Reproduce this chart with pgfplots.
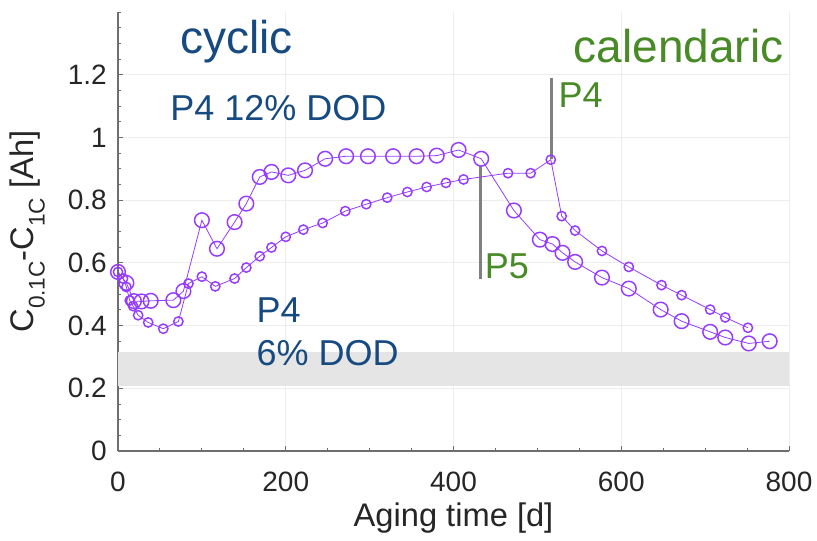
\documentclass[border=0pt]{standalone}
\usepackage{fontspec}
\setmainfont{Liberation Sans}
\usepackage{pgfplots}
\pgfplotsset{compat=1.18}
\definecolor{pur}{RGB}{150,60,255}
\definecolor{cblue}{RGB}{22,74,128}
\definecolor{cgreen}{RGB}{72,138,38}
\definecolor{axgray}{RGB}{110,110,110}
\definecolor{tickgray}{RGB}{38,38,38}
\newcommand{\sub}[1]{\raisebox{-0.33em}{\fontsize{17}{20}\selectfont #1}}
\begin{document}
\begin{tikzpicture}
\begin{axis}[
  at={(0,0)}, anchor=south west,
  scale only axis, width=503.25pt, height=329.25pt,
  xmin=0, xmax=800, ymin=0, ymax=1.4,
  axis x line*=bottom, axis y line*=left,
  axis line style={axgray, line width=0.8pt},
  tick align=inside,
  xtick={0,200,400,600,800},
  minor xtick={50,100,150,250,300,350,450,500,550,650,700,750},
  ytick={0,0.2,0.4,0.6,0.8,1,1.2},
  minor ytick={0.05,0.1,0.15,0.25,0.3,0.35,0.45,0.5,0.55,0.65,0.7,0.75,0.85,0.9,0.95,1.05,1.1,1.15,1.25,1.3,1.35,1.4},
  major tick length=3.75pt, minor tick length=2.2pt,
  every tick/.style={axgray, line width=0.7pt},
  grid=major, major grid style={black!7, line width=0.6pt},
  /pgf/number format/assume math mode=true,
  tick label style={font=\fontsize{21}{25}\selectfont, text=tickgray},
  xticklabel style={anchor=north, inner sep=0pt, yshift=-15.5pt},
  yticklabel style={anchor=east, inner sep=0pt, xshift=-8.25pt},
  xlabel={Aging time [d]},
  xlabel style={at={(axis description cs:0.5,-0.1731)}, anchor=base, inner sep=0pt, font=\fontsize{24.5}{28}\selectfont, text=tickgray},
  ylabel={C\sub{0.1C}-C\sub{1C} [Ah]},
  ylabel style={at={(axis description cs:-0.1088,0.5)}, rotate=0, anchor=south, inner sep=0pt, font=\fontsize{24.5}{28}\selectfont, text=tickgray},
  clip=false,
]
\addplot[fill=black!10, draw=none, forget plot] coordinates {(0,0.207) (800,0.207) (800,0.315) (0,0.315)} -- cycle;

\addplot[color=black!50, line width=2.2pt, forget plot] coordinates {(517,0.93) (517,1.19)};
\addplot[color=black!50, line width=2.2pt, forget plot] coordinates {(432,0.91) (432,0.55)};

% large circles
\addplot[pur, line width=0.6pt, mark=o, mark size=5.5pt, mark options={line width=1.1pt}] coordinates {
(0,0.571) (10,0.536) (19,0.478) (28,0.477) (39,0.479) (66,0.481) (78,0.51)
(100,0.736) (118,0.645) (139,0.73) (153,0.789) (169,0.874) (183,0.89) (203,0.879)
(223,0.895) (247,0.932) (272,0.94) (298,0.94) (328,0.94) (356,0.94) (380,0.942)
(406,0.96) (433,0.932) (472,0.767) (503,0.674) (518,0.66) (530,0.632) (545,0.603)
(577,0.553) (609,0.518) (647,0.451) (672,0.414) (706,0.38) (724,0.362) (752,0.343) (777,0.35)
};
% small circles
\addplot[pur, line width=0.6pt, mark=o, mark size=3.5pt, mark options={line width=1.1pt}] coordinates {
(0,0.571) (6,0.55) (10,0.523) (14,0.48) (18,0.462) (24,0.433) (36,0.41) (54,0.39)
(72,0.413) (84,0.534) (100,0.556) (116,0.525) (139,0.55) (153,0.585) (169,0.621)
(183,0.649) (200,0.683) (221,0.706) (244,0.727) (271,0.765) (296,0.787) (321,0.808)
(345,0.826) (368,0.842) (391,0.855) (412,0.866) (465,0.886) (492,0.886) (516,0.929)
(529,0.749) (545,0.703) (577,0.638) (609,0.587) (648,0.529) (672,0.497) (706,0.451)
(724,0.426) (751,0.393)
};

\node[anchor=base west, inner sep=0pt, text=cblue, font=\fontsize{34.5}{40}\selectfont] at (axis cs:74,1.267) {cyclic};
\node[anchor=base west, inner sep=0pt, text=cblue, font=\fontsize{27}{32}\selectfont] at (axis cs:62,1.054) {P4 12\% DOD};
\node[anchor=base west, inner sep=0pt, text=cblue, font=\fontsize{27}{32}\selectfont] at (axis cs:165,0.411) {P4};
\node[anchor=base west, inner sep=0pt, text=cblue, font=\fontsize{27}{32}\selectfont] at (axis cs:165,0.274) {6\% DOD};
\node[anchor=base west, inner sep=0pt, text=cgreen, font=\fontsize{34.5}{40}\selectfont] at (axis cs:543,1.239) {calendaric};
\node[anchor=base west, inner sep=0pt, text=cgreen, font=\fontsize{27}{32}\selectfont] at (axis cs:525,1.096) {P4};
\node[anchor=base west, inner sep=0pt, text=cgreen, font=\fontsize{27}{32}\selectfont] at (axis cs:437,0.551) {P5};
\end{axis}
\pgfresetboundingbox
\path (-88.5pt,-66.75pt) rectangle (524.25pt,338.25pt);
\end{tikzpicture}
\end{document}
